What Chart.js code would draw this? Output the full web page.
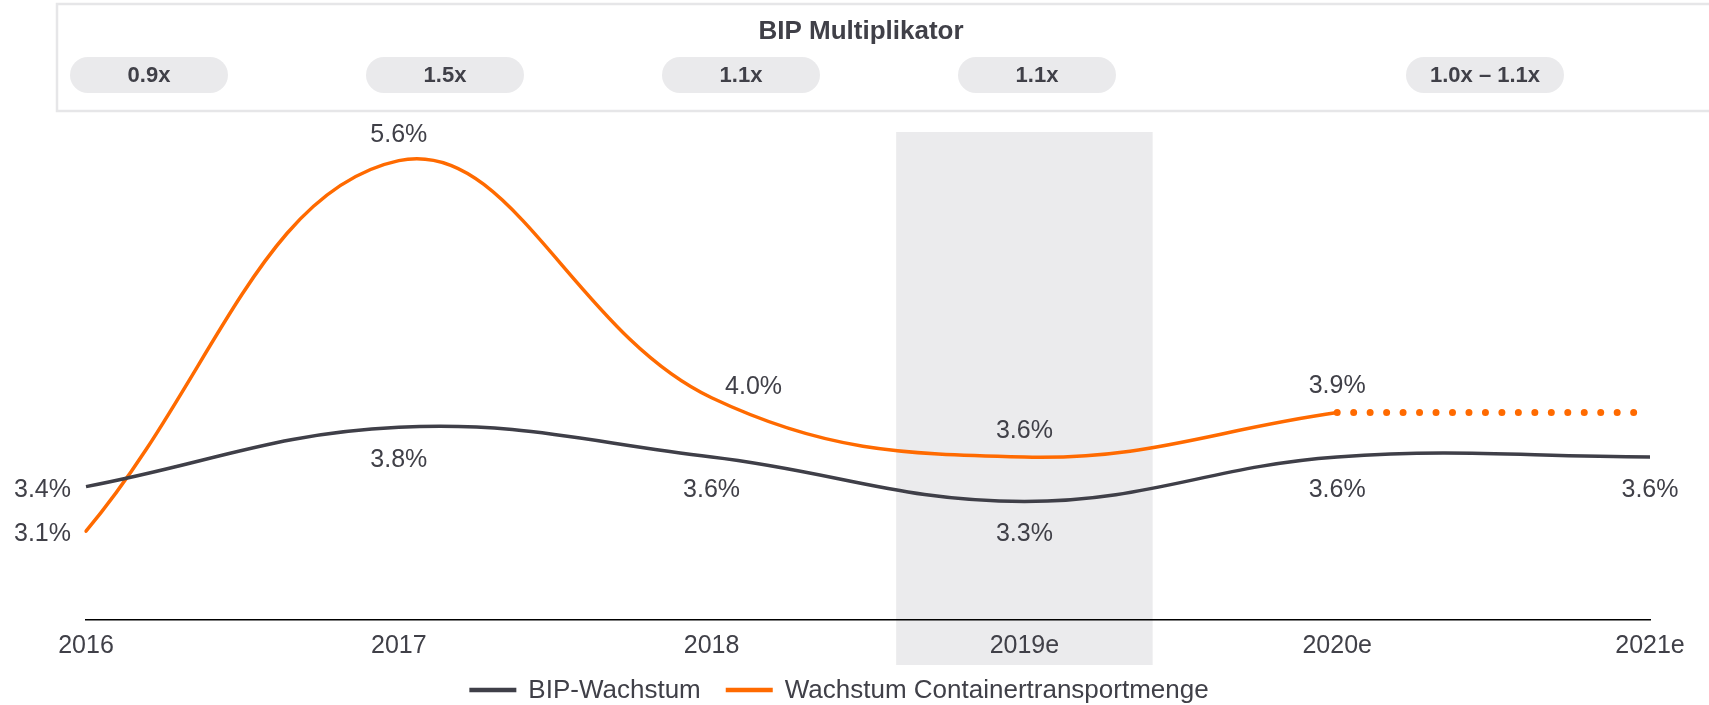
<!DOCTYPE html>
<html>
<head>
<meta charset="utf-8">
<script src="https://cdn.jsdelivr.net/npm/chart.js@4"></script>
<style>
html, body { margin: 0; padding: 0; background: #fff; }
</style>
</head>
<body>
<canvas id="chart" width="1709" height="705"></canvas>
<script>
var years = ["2016", "2017", "2018", "2019e", "2020e", "2021e"];
var bip_growth = [3.4, 3.8, 3.6, 3.3, 3.6, 3.6];
var container_growth = [3.1, 5.6, 4.0, 3.6, 3.9, null];
var container_forecast = [null, null, null, null, 3.9, 3.9];
var multipliers = ["0.9x", "1.5x", "1.1x", "1.1x", "1.0x – 1.1x"];
var series_names = ["BIP-Wachstum", "Wachstum Containertransportmenge"];
var box_title = "BIP Multiplikator";
var highlight_index = 3;

// where each value label sits relative to its point
var bip_label_pos = ["left", "below", "below", "below", "below", "below"];
var container_label_pos = ["left", "above", "aboveRight", "above", "above", null];

var dark = "#3f3f48";
var orange = "#ff6a00";
var text_color = "#404048";
var font_family = "'Liberation Sans', Arial, sans-serif";

var decor = {
  id: 'decor',
  beforeDraw: function(chart) {
    var ctx = chart.ctx, area = chart.chartArea, x = chart.scales.x;
    var step = x.getPixelForValue(1) - x.getPixelForValue(0);
    var cx = x.getPixelForValue(highlight_index);
    ctx.save();
    // grey column behind 2019e
    ctx.fillStyle = "#ebebed";
    ctx.fillRect(cx - step * 0.41, area.top + 1, step * 0.82, area.bottom - area.top + 44);

    // multiplier header box
    ctx.strokeStyle = "#e6e6e8";
    ctx.lineWidth = 2.5;
    ctx.strokeRect(57, 4, 1680, 107);
    ctx.fillStyle = text_color;
    ctx.textAlign = "center";
    ctx.textBaseline = "middle";
    ctx.font = "bold 26px " + font_family;
    ctx.fillText(box_title, 861, 32);

    var pill_x = [149, 445, 741, 1037, 1485];
    ctx.font = "bold 22px " + font_family;
    multipliers.forEach(function(m, i) {
      ctx.fillStyle = "#eaeaec";
      ctx.beginPath();
      ctx.roundRect(pill_x[i] - 79, 57, 158, 36, 18);
      ctx.fill();
      ctx.fillStyle = text_color;
      ctx.fillText(m, pill_x[i], 76);
    });
    ctx.restore();
  },
  afterDatasetsDraw: function(chart) {
    var ctx = chart.ctx;
    ctx.save();
    ctx.fillStyle = text_color;
    ctx.font = "25px " + font_family;
    ctx.textBaseline = "middle";
    [[0, bip_growth, bip_label_pos], [1, container_growth, container_label_pos]].forEach(function(s) {
      var meta = chart.getDatasetMeta(s[0]);
      s[1].forEach(function(v, i) {
        var pos = s[2][i];
        if (v === null || !pos) return;
        var p = meta.data[i];
        var txt = v.toFixed(1) + "%";
        if (pos === "left") {
          ctx.textAlign = "right";
          ctx.fillText(txt, p.x - 15, p.y + 3);
        } else if (pos === "above") {
          ctx.textAlign = "center";
          ctx.fillText(txt, p.x, p.y - 26);
        } else if (pos === "aboveRight") {
          ctx.textAlign = "center";
          ctx.fillText(txt, p.x + 42, p.y - 11);
        } else {
          ctx.textAlign = "center";
          ctx.fillText(txt, p.x, p.y + 33);
        }
      });
    });
    ctx.restore();
  },
  afterDraw: function(chart) {
    // legend for the two main series
    var ctx = chart.ctx;
    var items = chart.data.datasets.slice(0, 2);
    ctx.save();
    ctx.font = "26px " + font_family;
    var box = 47, gap = 12, between = 25;
    var widths = items.map(function(d) { return ctx.measureText(d.label).width; });
    var total = 2 * (box + gap) + widths[0] + widths[1] + between;
    var x = 839 - total / 2, y = 690;
    items.forEach(function(d, i) {
      ctx.strokeStyle = d.borderColor;
      ctx.lineWidth = 4.5;
      ctx.beginPath();
      ctx.moveTo(x, y);
      ctx.lineTo(x + box, y);
      ctx.stroke();
      x += box + gap;
      ctx.fillStyle = text_color;
      ctx.textAlign = "left";
      ctx.textBaseline = "middle";
      ctx.fillText(d.label, x, y + 1);
      x += widths[i] + between;
    });
    ctx.restore();
  }
};

var chart = new Chart(document.getElementById("chart").getContext("2d"), {
  type: "line",
  data: {
    labels: years,
    datasets: [{
        label: series_names[0],
        data: bip_growth,
        borderColor: dark,
        backgroundColor: dark,
        borderWidth: 3.5,
        tension: 0.4,
        pointRadius: 0,
        fill: false
      }, {
        label: series_names[1],
        data: container_growth,
        borderColor: orange,
        backgroundColor: orange,
        borderWidth: 3.5,
        borderCapStyle: "round",
        tension: 0.4,
        pointRadius: 0,
        fill: false
      }, {
        label: "Prognose",
        data: container_forecast,
        borderColor: orange,
        borderWidth: 7,
        borderDash: [0, 16.47],
        borderCapStyle: "round",
        tension: 0,
        pointRadius: 0,
        fill: false
      }
    ]
  },
  options: {
    responsive: false,
    animation: false,
    devicePixelRatio: 1,
    layout: { padding: { left: 86, right: 59, top: 131, bottom: 33 } },
    plugins: {
      legend: { display: false },
      tooltip: { enabled: false }
    },
    scales: {
      x: {
        grid: { display: false, drawTicks: false },
        border: { display: true, color: "#000", width: 1.5 },
        ticks: {
          color: text_color,
          font: { size: 25, family: font_family },
          padding: 11,
          maxRotation: 0,
          autoSkip: false
        }
      },
      y: { display: false, min: 2.5, max: 5.8 }
    }
  },
  plugins: [decor]
});
</script>
</body>
</html>
